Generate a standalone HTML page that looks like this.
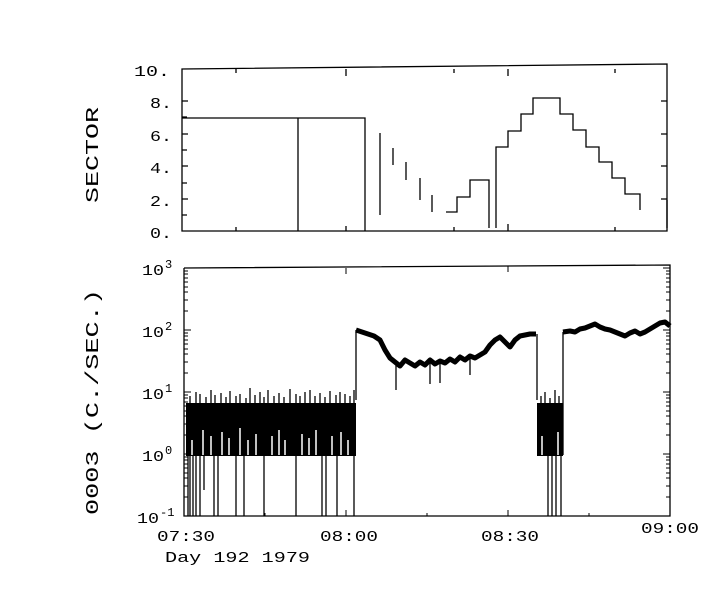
<!DOCTYPE html>
<html><head><meta charset="utf-8"><style>
html,body{margin:0;padding:0;background:#fff;}
svg{display:block;}
text{font-family:"Liberation Mono",monospace;fill:#000;}
</style></head><body>
<svg width="728" height="608" viewBox="0 0 728 608" xmlns="http://www.w3.org/2000/svg">
<g stroke="#000" stroke-width="1.3" fill="none">
<polyline points="182,84 182,69 667,64 667,231 182,231 182,84"/>
<path d="M182,101h6M182,134h6M182,166h6M182,199h6M182,150h5M182,117h5M182,183h5M182,215h5M667,101h-6M667,134h-6M667,166h-6M667,199h-6M236,231v-4M346,231v-5M454,231v-4M508,231v-7M615,231v-4M236,69v4M346,69v7M454,69v4M508,69v7M615,69v4"/>
<polyline points="182,118 365,118 365,231"/>
<path d="M298,118V231M380,133V215M393,148V165M406,162V180M420,178V200M432,195V212"/>
<polyline points="446,212 457,212 457,197 470,197 470,180 482,180 489,180 489,228"/>
<polyline points="496,228 496,147 508,147 508,131 521,131 521,114 533,114 533,98 560,98 560,114 573,114 573,130 586,130 586,147 599,147 599,162 612,162 612,178 625,178 625,194 640,194 640,210"/>
<path d="M667,200V228"/>
<polyline points="184,268 670,265 670,516 184,516 184,268"/>
<path stroke-width="1" d="M184,268h7M184,330h7M184,392h7M184,454h7M670,268h-7M670,330h-7M670,392h-7M670,454h-7
M184,497h4M184,486h4M184,478h4M184,473h4M184,468h4M184,464h4M184,460h4M184,457h4
M184,435h4M184,424h4M184,416h4M184,411h4M184,406h4M184,402h4M184,398h4M184,395h4
M184,373h4M184,362h4M184,354h4M184,349h4M184,344h4M184,340h4M184,336h4M184,333h4
M184,311h4M184,300h4M184,292h4M184,287h4M184,282h4M184,278h4M184,274h4M184,271h4
M670,497h-4M670,486h-4M670,478h-4M670,473h-4M670,468h-4M670,464h-4M670,460h-4M670,457h-4
M670,435h-4M670,424h-4M670,416h-4M670,411h-4M670,406h-4M670,402h-4M670,398h-4M670,395h-4
M670,373h-4M670,362h-4M670,354h-4M670,349h-4M670,344h-4M670,340h-4M670,336h-4M670,333h-4
M670,311h-4M670,300h-4M670,292h-4M670,287h-4M670,282h-4M670,278h-4M670,274h-4M670,271h-4
M346,516v-6M508,516v-6M265,516v-3M427,516v-3M589,516v-3M346,268v6M508,266v6"/>
</g>
<rect x="186" y="403" width="170" height="53" fill="#000"/>
<rect x="537" y="403" width="26" height="53" fill="#000"/>
<g stroke="#fff" stroke-width="1.5">
<path d="M192,440V455M203,430V455M211,436V455M222,432V455M229,438V455M240,428V455M248,440V455M256,434V455M272,436V455M279,430V455M285,440V455M302,434V455M309,438V455M316,430V455M332,436V455M341,432V455M348,440V455M542,436V455M558,432V455"/>
</g>
<g stroke="#000" fill="none" stroke-width="1.3">
<path d="M188,455V516M190,455V516M193,455V516M196,455V516M200,455V516M204,455V490M214,455V516M218,455V516M236,455V516M244,455V516M264,455V516M296,455V516M322,455V516M326,455V516M337,455V516M354,455V516M548,455V516M552,455V516M556,455V516M561,455V516"/>
<path d="M190,404V396M196,404V392M200,404V394M206,404V397M211,404V390M215,404V395M221,404V393M226,404V397M230,404V391M236,404V396M240,404V394M246,404V398M250,404V388M255,404V395M260,404V392M264,404V397M268,404V390M274,404V396M279,404V393M284,404V397M290,404V389M296,404V394M300,404V396M305,404V392M310,404V390M315,404V396M320,404V393M325,404V397M330,404V391M336,404V395M340,404V392M345,404V394M350,404V396M354,404V390M396,365V390M430,362V384M440,362V383M470,356V375M541,404V396M545,404V392M550,404V398M555,404V390M559,404V396"/>
<path d="M356,400V330M537,334V400M563,455V332"/>
<polyline stroke-width="5" stroke-linejoin="round" points="356,330 362,332 368,334 374,336 380,340 385,350 390,358 395,362 400,366 405,360 410,363 415,366 420,362 425,365 430,360 435,364 440,361 445,363 450,359 455,362 460,357 465,360 470,356 475,358 480,355 485,352 490,345 495,340 500,337 505,342 510,347 515,340 520,336 525,335 530,334 536,334"/>
<polyline stroke-width="5" stroke-linejoin="round" points="563,332 570,331 575,332 580,329 585,328 590,326 595,324 600,327 605,329 610,330 615,332 620,334 625,336 630,333 635,331 640,334 645,332 650,329 655,326 660,323 665,322 670,326"/>
</g>
<g font-size="15">
<text x="134" y="76" textLength="36" lengthAdjust="spacingAndGlyphs">10.</text>
<text x="150" y="108" textLength="22" lengthAdjust="spacingAndGlyphs">8.</text>
<text x="150" y="141" textLength="22" lengthAdjust="spacingAndGlyphs">6.</text>
<text x="150" y="173" textLength="22" lengthAdjust="spacingAndGlyphs">4.</text>
<text x="150" y="206" textLength="22" lengthAdjust="spacingAndGlyphs">2.</text>
<text x="150" y="238" textLength="22" lengthAdjust="spacingAndGlyphs">0.</text>
<text x="142" y="275" textLength="22" lengthAdjust="spacingAndGlyphs">10</text><text x="165" y="268" font-size="12">3</text>
<text x="142" y="337" textLength="22" lengthAdjust="spacingAndGlyphs">10</text><text x="165" y="330" font-size="12">2</text>
<text x="142" y="399" textLength="22" lengthAdjust="spacingAndGlyphs">10</text><text x="165" y="392" font-size="12">1</text>
<text x="142" y="461" textLength="22" lengthAdjust="spacingAndGlyphs">10</text><text x="165" y="454" font-size="12">0</text>
<text x="137" y="523" textLength="22" lengthAdjust="spacingAndGlyphs">10</text><text x="160" y="516" font-size="12">-1</text>
<text x="157" y="541" textLength="58" lengthAdjust="spacingAndGlyphs">07:30</text>
<text x="320" y="541" textLength="58" lengthAdjust="spacingAndGlyphs">08:00</text>
<text x="481" y="541" textLength="58" lengthAdjust="spacingAndGlyphs">08:30</text>
<text x="641" y="533" textLength="58" lengthAdjust="spacingAndGlyphs">09:00</text>
<text x="165" y="562" textLength="145" lengthAdjust="spacingAndGlyphs">Day 192 1979</text>
<text transform="translate(98,203) rotate(-90)" font-size="18" textLength="96" lengthAdjust="spacingAndGlyphs">SECTOR</text>
<text transform="translate(98,515) rotate(-90)" font-size="18" textLength="226" lengthAdjust="spacingAndGlyphs">0003 (C./SEC.)</text>
</g>
</svg>
</body></html>
